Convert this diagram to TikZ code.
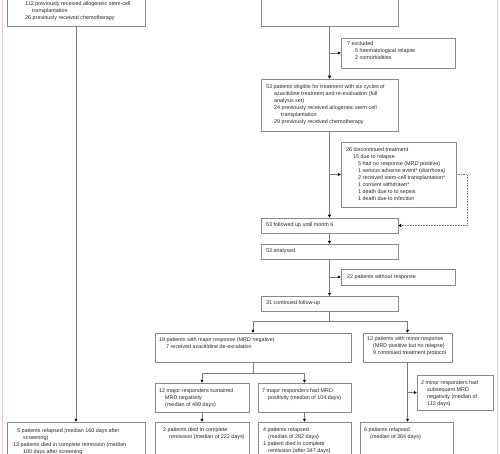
\documentclass[tikz,border=0pt]{standalone}
\usepackage{fontspec}
\setmainfont{Liberation Sans}
\usetikzlibrary{arrows.meta,fit}
\definecolor{boxgrey}{HTML}{8A8A8A}
\definecolor{linegrey}{HTML}{7A7A7A}
\definecolor{pinkline}{HTML}{E8C9D2}
\newcommand\mkbox[3]{\node[boxst, fit={(#2) (#3)}] (#1) {};}
\begin{document}
\begin{tikzpicture}[x=1pt,y=-1pt,
  boxst/.style={draw=boxgrey, line width=0.5pt, inner sep=0pt},
  txt/.style={anchor=north west, inner sep=0pt, align=left, font=\fontsize{5.4}{7}\selectfont, text=black!85},
  conn/.style={draw=linegrey, line width=0.6pt},
  arr/.style={conn, -{Triangle[length=3pt,width=3pt,black]}},
  dotarr/.style={conn, densely dotted, -{Triangle[length=3pt,width=3pt,black]}}]
\useasboundingbox (0,0) rectangle (500,454);
\clip (0,0) rectangle (500,454);
% page border lines
\draw[pinkline, line width=0.8pt] (2,-5) coordinate (pl1) -- (2,460) coordinate (pl2);
\draw[pinkline, line width=0.8pt] (497,-5) coordinate (pr1) -- (497,460) coordinate (pr2);
% boxes
\mkbox{topl}{7,-30}{145,26}
\mkbox{topc}{261,-30}{398,26}
\mkbox{excl}{341,38}{455,68}
\mkbox{elig}{261,79}{398,131}
\mkbox{disc}{341,142}{456,207}
\mkbox{fol}{261,218}{398,233}
\mkbox{ana}{261,244}{398,259}
\mkbox{noresp}{341,269}{455,285}
\mkbox{cont}{261,296}{398,311}
\mkbox{major}{155,333}{351,362}
\mkbox{minor}{363,333}{452,362}
\mkbox{sust}{155,383}{249,412}
\mkbox{mrdpos}{258,383}{351,412}
\mkbox{minor2}{417,375}{493,410}
\mkbox{botl}{7,422}{145,480}
\mkbox{died2}{155,422}{249,480}
\mkbox{rel4}{258,422}{351,480}
\mkbox{rel6}{360,422}{453,480}
% texts
\node[txt] (t-topl) at (25,1.5) {112 previously received allogeneic stem-cell\\\hspace*{7pt}transplantation\\26 previously received chemotherapy};
\node[txt] (t-excl) at (347,41.5) {7 excluded\\\hspace*{8pt}5 haematological relapse\\\hspace*{8pt}2 comorbidities};
\node[txt] (t-elig) at (266,84.5) {53 patients eligible for treatment with six cycles of\\\hspace*{8pt}azacitidine treatment and re-evaluation (full\\\hspace*{8pt}analysis set)\\\hspace*{8pt}24 previously received allogeneic stem-cell\\\hspace*{15pt}transplantation\\\hspace*{8pt}29 previously received chemotherapy};
\node[txt] (t-disc) at (346,147.5) {26 discontinued treatment\\\hspace*{7pt}15 due to relapse\\\hspace*{12pt}5 had no response (MRD positive)\\\hspace*{12pt}1 serious adverse event* (diarrhoea)\\\hspace*{12pt}2 received stem-cell transplantation*\\\hspace*{12pt}1 consent withdrawn*\\\hspace*{12pt}1 death due to to sepsis\\\hspace*{12pt}1 death due to infection};
\node[txt] (t-fol) at (266,222.5) {53 followed up until month 6};
\node[txt] (t-ana) at (266,248.5) {53 analysed};
\node[txt] (t-noresp) at (347,274.5) {22 patients without response};
\node[txt] (t-cont) at (266,300.5) {31 continued follow-up};
\node[txt] (t-major) at (159,337.5) {19 patients with major response (MRD negative)\\\hspace*{7pt}7 received azacitidine de-escalation};
\node[txt] (t-minor) at (367,336.5) {12 patients with minor response\\\hspace*{6pt}(MRD positive but no relapse)\\\hspace*{6pt}9 continued treatment protocol};
\node[txt] (t-sust) at (159,388.5) {12 major responders sustained\\\hspace*{6pt}MRD negativity\\\hspace*{6pt}(median of 499 days)};
\node[txt] (t-mrdpos) at (262,388.5) {7 major responders had MRD\\\hspace*{6pt}positivity (median of 104 days)};
\node[txt] (t-minor2) at (421,380.5) {2 minor responders had\\\hspace*{6pt}subsequent MRD\\\hspace*{6pt}negativity (median of\\\hspace*{6pt}112 days)};
\node[txt] (t-botl) at (17,428.5) {5 patients relapsed (median 160 days after\\\hspace*{6pt}screening)\\\hspace*{-4pt}13 patients died in complete remission (median\\\hspace*{6pt}100 days after screening};
\node[txt] (t-died2) at (163,427.5) {2 patients died in complete\\\hspace*{6pt}remission (median of 222 days)};
\node[txt] (t-rel4) at (263,427.5) {4 patients relapsed\\\hspace*{5pt}(median of 282 days)\\1 patient died in complete\\\hspace*{5pt}remission (after 347 days)};
\node[txt] (t-rel6) at (364,427.5) {6 patients relapsed\\\hspace*{6pt}(median of 364 days)};
% connectors
\draw[arr] (topl.south) -- (botl.north);
\draw[arr] (topc.south) -- (elig.north);
\draw[arr] (excl.west -| topc.south) -- (excl.west);
\draw[arr] (elig.south) -- (fol.north);
\draw[arr] (disc.west -| elig.south) -- (disc.west);
\coordinate (dd) at (467,0);
\draw[dotarr] (disc.east) -| (dd |- fol.east) -- (fol.east);
\draw[arr] (fol.south) -- (ana.north);
\draw[arr] (ana.south) -- (cont.north);
\draw[arr] (noresp.west -| ana.south) -- (noresp.west);
\coordinate (s1) at (329.5,321);
\draw[conn] (cont.south) -- (s1);
\draw[arr] (s1) -| (major.north);
\draw[arr] (s1) -| (minor.north);
\coordinate (s2) at (253,373);
\draw[conn] (major.south) -- (s2);
\draw[arr] (s2) -| (sust.north);
\draw[arr] (s2) -| (mrdpos.north);
\draw[arr] (sust.south) -- (died2.north);
\draw[arr] (mrdpos.south) -- (rel4.north);
\draw[arr] (minor.south) -- (rel6.north -| minor.south);
\draw[arr] (minor2.west -| minor.south) -- (minor2.west);
\end{tikzpicture}
\end{document}
